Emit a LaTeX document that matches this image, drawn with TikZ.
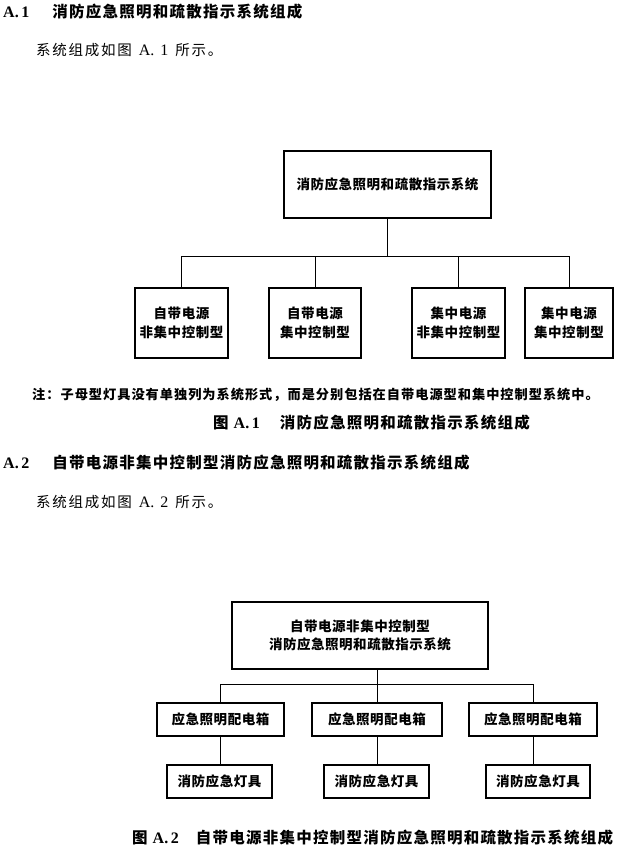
\documentclass[tikz,border=0pt]{standalone}
\usepackage{fontspec}
\setmainfont{Liberation Serif}
\newfontfamily\hdfont{Noto Sans CJK SC}[LetterSpace=8]
\newfontfamily\txtfont{Noto Sans CJK SC}[LetterSpace=12]
\newfontfamily\notefont{Noto Sans CJK SC}[LetterSpace=7.5]
\newfontfamily\boxfont{Noto Sans CJK SC}[LetterSpace=4]
\usetikzlibrary{positioning}

\begin{document}
\begin{tikzpicture}[x=1pt,y=-1pt,
  blk/.style={draw,line width=1.2pt,inner sep=0pt,align=center,font=\boxfont\bfseries\fontsize{13.5}{19.5}\selectfont},
  wire/.style={line width=0.9pt},
  txt/.style={anchor=west,inner sep=0pt}]
\useasboundingbox (0,0) rectangle (622,848);
\node[txt] (h1) at (3,12) {\bfseries\fontsize{16}{18}\selectfont A.\,1\hspace{23pt}{\hdfont\fontsize{15.5}{18}\selectfont 消防应急照明和疏散指示系统组成}};
\node[txt] (t1) at (36,50) {\fontsize{16}{18}\selectfont{\txtfont\fontsize{14.5}{18}\selectfont 系统组成如图}\hspace{7pt}A.\hspace{6pt}1\hspace{7pt}{\txtfont\fontsize{14.5}{18}\selectfont 所示。}};

\node[blk,minimum width=207pt,minimum height=67pt] (sys) at (387.5,184.5) {消防应急照明和疏散指示系统};
\node[blk,minimum width=93pt,minimum height=70pt] (zf) at (181.5,323) {自带电源\\非集中控制型};
\node[blk,minimum width=92pt,minimum height=70pt] (zj) at (315,323) {自带电源\\集中控制型};
\node[blk,minimum width=93pt,minimum height=70pt] (jf) at (458.5,323) {集中电源\\非集中控制型};
\node[blk,minimum width=88pt,minimum height=70pt] (jj) at (569,323) {集中电源\\集中控制型};
\coordinate (fork) at (387.5,256);
\draw[wire] (sys) -- (fork);
\foreach \n in {zf,zj,jf,jj} \draw[wire] (\n.north) |- (fork);

\node[txt] (note) at (32,395) {\notefont\bfseries\fontsize{13.2}{15}\selectfont 注：子母型灯具没有单独列为系统形式，而是分别包括在自带电源型和集中控制型系统中。};
\node[txt] (cap1) at (213,423) {\bfseries\fontsize{16}{18}\selectfont{\hdfont\fontsize{15.5}{18}\selectfont 图}\hspace{5pt}A.\,1\hspace{20pt}{\hdfont\fontsize{15.5}{18}\selectfont 消防应急照明和疏散指示系统组成}};
\node[txt] (h2) at (3,463) {\bfseries\fontsize{16}{18}\selectfont A.\,2\hspace{23pt}{\hdfont\fontsize{15.5}{18}\selectfont 自带电源非集中控制型消防应急照明和疏散指示系统组成}};
\node[txt] (t2) at (36,502) {\fontsize{16}{18}\selectfont{\txtfont\fontsize{14.5}{18}\selectfont 系统组成如图}\hspace{7pt}A.\hspace{6pt}2\hspace{7pt}{\txtfont\fontsize{14.5}{18}\selectfont 所示。}};

\node[blk,minimum width=256pt,minimum height=67pt,font=\boxfont\bfseries\fontsize{13.5}{18.5}\selectfont] (zfsys) at (360,635.5) {自带电源非集中控制型\\消防应急照明和疏散指示系统};
\node[blk,minimum width=127pt,minimum height=33pt] (pd1) at (220.5,719.5) {应急照明配电箱};
\node[blk,minimum width=130pt,minimum height=33pt] (pd2) at (377,719.5) {应急照明配电箱};
\node[blk,minimum width=128pt,minimum height=33pt] (pd3) at (533,719.5) {应急照明配电箱};
\node[blk,minimum width=105pt,minimum height=33pt] (dj1) at (219.5,781.5) {消防应急灯具};
\node[blk,minimum width=105pt,minimum height=33pt] (dj2) at (376.5,781.5) {消防应急灯具};
\node[blk,minimum width=104pt,minimum height=33pt] (dj3) at (538,781.5) {消防应急灯具};
\coordinate (fork2) at (377,684);
\draw[wire] (zfsys.south -| fork2) -- (fork2);
\foreach \n in {pd1,pd2,pd3} \draw[wire] (\n.north) |- (fork2);
\foreach \n in {1,2,3} \draw[wire] (pd\n) -- (pd\n |- dj\n.north);

\node[txt] (cap2) at (132,838) {\bfseries\fontsize{16}{18}\selectfont{\hdfont\fontsize{15.5}{18}\selectfont 图}\hspace{5pt}A.\,2\hspace{17pt}{\hdfont\fontsize{15.5}{18}\selectfont 自带电源非集中控制型消防应急照明和疏散指示系统组成}};
\end{tikzpicture}
\end{document}
